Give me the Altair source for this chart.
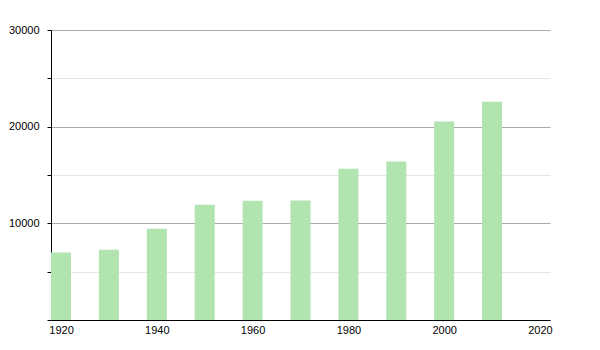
import altair as alt
import pandas as pd

years = [1920, 1930, 1940, 1950, 1960, 1970, 1980, 1990, 2000, 2010]
population = [6990, 7270, 9440, 11920, 12330, 12360, 15640, 16390, 20530, 22590]
x_ticks = [1920, 1940, 1960, 1980, 2000, 2020]
y_ticks = [0, 5000, 10000, 15000, 20000, 25000, 30000]

df = pd.DataFrame({"year": years, "pop": population})

chart = alt.Chart(df).mark_bar(size=20, color="#b2e4b0").encode(
    x=alt.X("year:Q",
            scale=alt.Scale(domain=[1917.91, 2022.09], nice=False, zero=False, padding=0),
            axis=alt.Axis(values=x_ticks, format="d", title=None, grid=False,
                          ticks=False, labelPadding=4, domainColor="#000",
                          labelColor="#000", labelFont="Liberation Sans",
                          labelFontSize=11, labelFlush=False)),
    y=alt.Y("pop:Q",
            scale=alt.Scale(domain=[0, 30000], nice=False),
            axis=alt.Axis(values=y_ticks, title=None,
                          labelExpr="datum.value % 10000 === 0 && datum.value > 0 ? format(datum.value, 'd') : ''",
                          tickSize=4, tickColor="#000", domainColor="#000",
                          labelPadding=8, labelColor="#000",
                          labelFont="Liberation Sans", labelFontSize=11,
                          gridColor=alt.condition("datum.value % 10000 === 0",
                                                  alt.value("#ababab"),
                                                  alt.value("#e6e6e6")))),
).properties(
    width=499, height=290,
    autosize="none",
    padding={"left": 51, "top": 30, "right": 50, "bottom": 30},
).configure_view(stroke=None)

chart.save("out.html", embed_options={"renderer": "svg", "actions": False})
